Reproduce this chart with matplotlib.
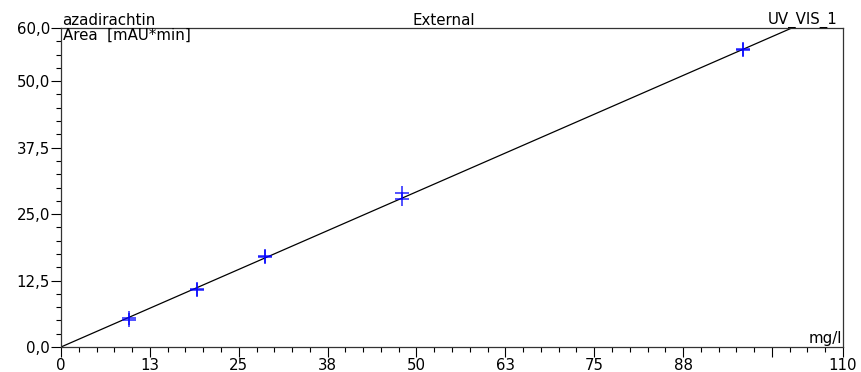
import numpy as np
import matplotlib
matplotlib.use("Agg")
import matplotlib.pyplot as plt

plt.rcParams['font.family'] = ['DejaVu Sans']

# calibration points (two injections per level)
conc = [9.5, 9.5, 19.1, 19.1, 28.7, 28.7, 47.9, 47.9, 95.9, 95.9]
area = [5.1, 5.4, 10.7, 11.0, 16.9, 17.1, 27.9, 28.9, 55.8, 56.0]

# calibration line (through origin)
line_x = [0, 102.8]
line_y = [0, 60.0]

xticks = [0, 12.5, 25, 37.5, 50, 62.5, 75, 87.5, 100, 110]
xlabels = ["0", "13", "25", "38", "50", "63", "75", "88", "", "110"]
yticks = [0, 12.5, 25, 37.5, 50, 60]
ylabels = ["0,0", "12,5", "25,0", "37,5", "50,0", "60,0"]

fig = plt.figure(figsize=(8.61, 3.72), dpi=100)
ax = fig.add_axes([61/861, 1-347/372, (843-61)/861, (347-28)/372])

ax.plot(line_x, line_y, color='black', lw=0.9)
ax.plot(conc, area, '+', color='#0000ff', ms=10, mew=1.2, alpha=0.8)

ax.set_xlim(0, 110)
ax.set_ylim(0, 60)
ax.set_xticks(xticks)
ax.set_xticklabels(xlabels)
ax.set_xticks(np.arange(0, 110.1, 2.5), minor=True)
ax.set_yticks(yticks)
ax.set_yticklabels(ylabels)
ax.set_yticks(np.arange(0, 60.1, 2.5), minor=True)

fs = 10.8
ax.tick_params(which='major', direction='out', length=7, width=0.8, labelsize=fs, pad=1, colors='black')
ax.tick_params(which='minor', direction='out', length=3.5, width=0.8)
for s in ax.spines.values():
    s.set_linewidth(0.9)
    s.set_color('#333333')

ax.text(0.002, 1.0, "azadirachtin", transform=ax.transAxes, fontsize=fs, ha='left', va='bottom')
ax.text(0.49, 1.0, "External", transform=ax.transAxes, fontsize=fs, ha='center', va='bottom')
ax.text(0.993, 1.0, "UV_VIS_1", transform=ax.transAxes, fontsize=fs, ha='right', va='bottom')
ax.text(0.002, 1.0, "Area  [mAU*min]", transform=ax.transAxes, fontsize=fs, ha='left', va='top')
ax.text(0.999, 0.003, "mg/l", transform=ax.transAxes, fontsize=fs, ha='right', va='bottom')

fig.savefig("out.png", dpi=100)
